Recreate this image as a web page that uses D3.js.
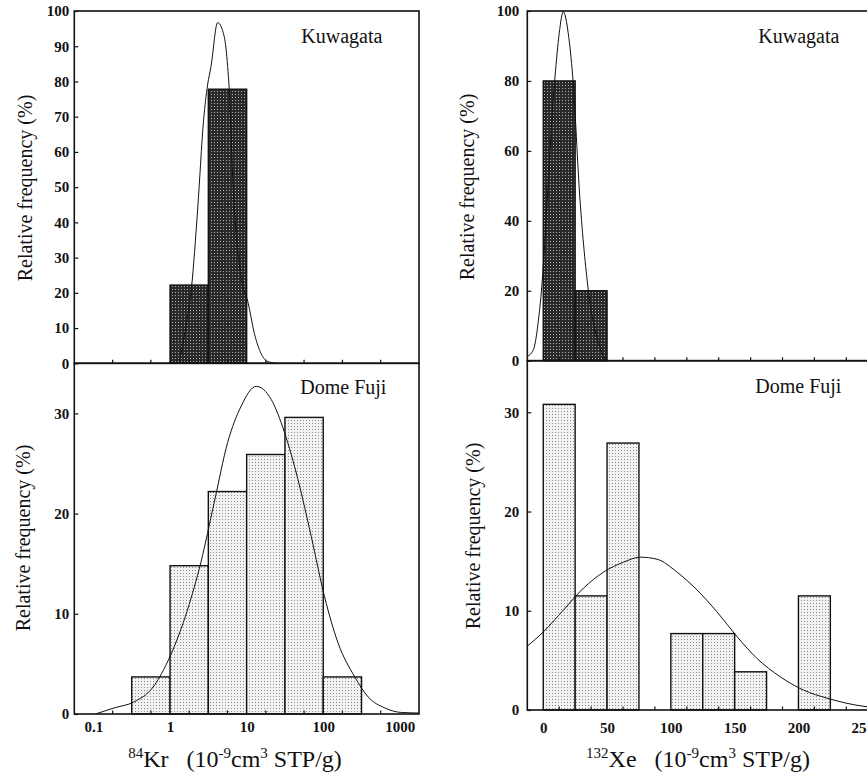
<!DOCTYPE html>
<html>
<head>
<meta charset="utf-8">
<script src="https://cdn.jsdelivr.net/npm/d3@7"></script>
<style>
body { margin: 0; background: #fff; }
svg text { font-family: "Liberation Serif", "Times New Roman", serif; fill: #111; }
</style>
</head>
<body>
<svg width="867" height="778"></svg>
<script>
// histogram bins (edges) and relative frequencies in %
const krKuwaEdges = [1, 3.16, 10];
const krKuwaFreq = [22.2, 77.8];
const krDomeEdges = [0.316, 1, 3.16, 10, 31.6, 100, 316];
const krDomeFreq = [3.7, 14.8, 22.2, 25.9, 29.6, 3.7];
const xeKuwaEdges = [0, 25, 50];
const xeKuwaFreq = [80, 20];
const xeDomeEdges = [0, 25, 50, 75, 100, 125, 150, 175, 200, 225];
const xeDomeFreq = [30.8, 11.5, 26.9, 0, 7.7, 7.7, 3.85, 0, 11.5];

// fitted curves
const krKuwaCurveX = [1.31, 1.61, 1.91, 2.29, 2.74, 3.09, 3.42, 4.18, 5.10, 5.65, 5.93, 6.57, 8.45, 10.5, 12.6, 15.4, 18.9, 24.3];
const krKuwaCurveY = [0, 10.4, 21.7, 43.5, 69, 79, 84.2, 96.7, 92.7, 84.2, 77.6, 53, 24.6, 17, 8.5, 2.8, 0.5, 0];
const krDomeCurveX = [0.106, 0.185, 0.337, 0.588, 1.02, 1.69, 2.52, 3.77, 5.65, 8.45, 13.3, 20.9, 31.2, 46.8, 69.8, 104, 156, 258, 386, 638, 1057, 1780];
const krDomeCurveY = [0, 0.6, 1.2, 2.6, 5.9, 10.4, 15.1, 21.1, 27.1, 30.7, 32.7, 31.4, 28.1, 23.4, 17.7, 11.7, 7.1, 3.7, 1.7, 0.6, 0.15, 0.1];
const xeKuwaCurveX = [-13, -7.8, -2.6, 9.2, 12.5, 15.7, 19.6, 23.1, 28.8, 35.3, 44.4, 50, 60];
const xeKuwaCurveY = [1.1, 3.1, 15.4, 81.2, 93.6, 99.8, 93.6, 81.2, 46, 20.2, 4, 0, 0];
const xeDomeCurveX = [-12.8, 0.3, 16, 31.7, 47.3, 63, 76, 89.1, 104.8, 120.5, 136.1, 151.8, 167.5, 185.7, 204.1, 222.3, 253.7, 270];
const xeDomeCurveY = [6.4, 7.9, 10.1, 12.3, 13.9, 14.9, 15.4, 15.2, 13.9, 12.1, 9.9, 7.4, 5.2, 3.35, 2.0, 1.2, 0.33, 0.2];

// ticks
const krTicks = [0.1, 1, 10, 100, 1000];
const krTickLabels = ["0.1", "1", "10", "100", "1000"];
const krMinor = [0.178, 0.562, 1.78, 5.62, 17.8, 56.2, 178, 562];
const xeTicks = [0, 50, 100, 150, 200, 250];
const xeMinor = [12.5, 37.5, 62.5, 87.5, 112.5, 137.5, 162.5, 187.5, 212.5, 237.5, 262.5];
const krKuwaYTicks = [0, 10, 20, 30, 40, 50, 60, 70, 80, 90, 100];
const xeKuwaYTicks = [0, 20, 40, 60, 80, 100];
const domeYTicks = [0, 10, 20, 30];

var svg = d3.select("svg");

var defs = svg.append("defs");
var dark = defs.append("pattern").attr("id", "dark")
    .attr("width", 3).attr("height", 3).attr("patternUnits", "userSpaceOnUse");
dark.append("rect").attr("width", 3).attr("height", 3).attr("fill", "#2a2a2a");
dark.append("rect").attr("x", 1).attr("y", 1).attr("width", 1).attr("height", 1).attr("fill", "#b0b0b0");
var light = defs.append("pattern").attr("id", "light")
    .attr("width", 3).attr("height", 3).attr("patternUnits", "userSpaceOnUse");
light.append("rect").attr("width", 3).attr("height", 3).attr("fill", "#f2f2f2");
light.append("rect").attr("width", 1).attr("height", 1).attr("fill", "#8a8a8a");

// scales
var xKr = d3.scaleLog().domain([Math.pow(10, -1.25), Math.pow(10, 3.25)]).range([74.3, 419]);
var xXe = d3.scaleLinear().domain([-12.5, 287.5]).range([527.3, 910.1]);
var yKrKuwa = d3.scaleLinear().domain([0, 100]).range([363.3, 11]);
var yKrDome = d3.scaleLinear().domain([0, 35]).range([714, 363.3]);
var yXeKuwa = d3.scaleLinear().domain([0, 100]).range([360.7, 11]);
var yXeDome = d3.scaleLinear().domain([0, 35.2]).range([710, 360.7]);

function styleTicks(sel) {
    sel.selectAll(".tick text")
        .style("font-family", "'Liberation Serif', 'Times New Roman', serif")
        .style("font-weight", "bold")
        .style("font-size", "15px")
        .style("fill", "#111");
}

var clipId = 0;
function panel(x, y, edges, freq, fill, cx, cy, yTicks, minor, label) {
    var x0 = x.range()[0], x1 = x.range()[1];
    var y0 = y.range()[0], y1 = y.range()[1];
    var g = svg.append("g");
    var id = "clip" + (clipId++);
    defs.append("clipPath").attr("id", id)
        .append("rect").attr("x", x0).attr("y", y1).attr("width", x1 - x0).attr("height", y0 - y1);

    var bins = freq.map(function(f, i) { return {lo: edges[i], hi: edges[i + 1], f: f}; })
        .filter(function(d) { return d.f > 0; });
    g.selectAll("rect.bar")
        .data(bins)
        .enter()
        .append("rect")
        .attr("class", "bar")
        .attr("x", function(d) { return x(d.lo); })
        .attr("width", function(d) { return x(d.hi) - x(d.lo); })
        .attr("y", function(d) { return y(d.f); })
        .attr("height", function(d) { return y(0) - y(d.f); })
        .style("fill", "url(#" + fill + ")")
        .style("stroke", "#111")
        .style("stroke-width", 1.4);

    var pts = cx.map(function(v, i) { return [v, cy[i]]; });
    g.append("path")
        .datum(pts)
        .attr("clip-path", "url(#" + id + ")")
        .attr("d", d3.line()
            .x(function(d) { return x(d[0]); })
            .y(function(d) { return y(d[1]); })
            .curve(d3.curveMonotoneX))
        .style("fill", "none")
        .style("stroke", "#111")
        .style("stroke-width", 1);

    // minor ticks pointing inward on the bottom edge
    g.selectAll("line.minor")
        .data(minor)
        .enter()
        .append("line")
        .attr("class", "minor")
        .attr("x1", function(d) { return x(d); })
        .attr("x2", function(d) { return x(d); })
        .attr("y1", y0)
        .attr("y2", y0 - 3.5)
        .style("stroke", "#111")
        .style("stroke-width", 1.2);

    g.append("rect")
        .attr("x", x0).attr("y", y1)
        .attr("width", x1 - x0).attr("height", y0 - y1)
        .style("fill", "none")
        .style("stroke", "#111")
        .style("stroke-width", 1.6);

    var ya = g.append("g")
        .attr("transform", "translate(" + x0 + ",0)")
        .call(d3.axisLeft(y).tickValues(yTicks).tickSizeInner(-4).tickSizeOuter(0).tickPadding(x0 > 300 ? 8 : 5));
    ya.select(".domain").remove();
    ya.selectAll(".tick line").style("stroke", "#111").style("stroke-width", 1.2);
    styleTicks(ya);

    g.append("text")
        .attr("x", x0 + label[1])
        .attr("y", y1 + label[2])
        .style("font-size", "20px")
        .text(label[0]);
    return g;
}

panel(xKr, yKrKuwa, krKuwaEdges, krKuwaFreq, "dark", krKuwaCurveX, krKuwaCurveY, krKuwaYTicks, krMinor, ["Kuwagata", 227, 32]);
panel(xKr, yKrDome, krDomeEdges, krDomeFreq, "light", krDomeCurveX, krDomeCurveY, domeYTicks, krMinor, ["Dome Fuji", 226, 31]);
panel(xXe, yXeKuwa, xeKuwaEdges, xeKuwaFreq, "dark", xeKuwaCurveX, xeKuwaCurveY, xeKuwaYTicks, xeMinor, ["Kuwagata", 231, 32]);
panel(xXe, yXeDome, xeDomeEdges, xeDomeFreq, "light", xeDomeCurveX, xeDomeCurveY, domeYTicks, xeMinor, ["Dome Fuji", 228, 32]);

// x tick labels
var xa1 = svg.append("g")
    .attr("transform", "translate(0," + yKrDome(0) + ")")
    .call(d3.axisBottom(xKr).tickValues(krTicks).tickSize(0).tickPadding(7)
        .tickFormat(function(d, i) { return krTickLabels[i]; }));
xa1.select(".domain").remove();
styleTicks(xa1);
var xa2 = svg.append("g")
    .attr("transform", "translate(0," + yXeDome(0) + ")")
    .call(d3.axisBottom(xXe).tickValues(xeTicks).tickSize(0).tickPadding(12));
xa2.select(".domain").remove();
styleTicks(xa2);

// axis titles
function yTitle(cx, cy) {
    svg.append("text")
        .attr("transform", "translate(" + cx + "," + cy + ") rotate(-90)")
        .attr("text-anchor", "middle")
        .style("font-size", "20px")
        .text("Relative frequency (%)");
}
yTitle(32, 188);
yTitle(30, 538);
yTitle(474, 187);
yTitle(480, 536);

function xTitle(cx, iso, el) {
    var t = svg.append("text")
        .attr("x", cx).attr("y", 767)
        .attr("text-anchor", "middle")
        .style("font-size", "24px")
        .style("white-space", "pre");
    t.append("tspan").attr("dy", -9).style("font-size", "15px").text(iso);
    t.append("tspan").attr("dy", 9).text(el + "   (10");
    t.append("tspan").attr("dy", -9).style("font-size", "15px").text("-9");
    t.append("tspan").attr("dy", 9).text("cm");
    t.append("tspan").attr("dy", -9).style("font-size", "15px").text("3");
    t.append("tspan").attr("dy", 9).text(" STP/g)");
}
xTitle(235, "84", "Kr");
xTitle(698, "132", "Xe");
</script>
</body>
</html>
